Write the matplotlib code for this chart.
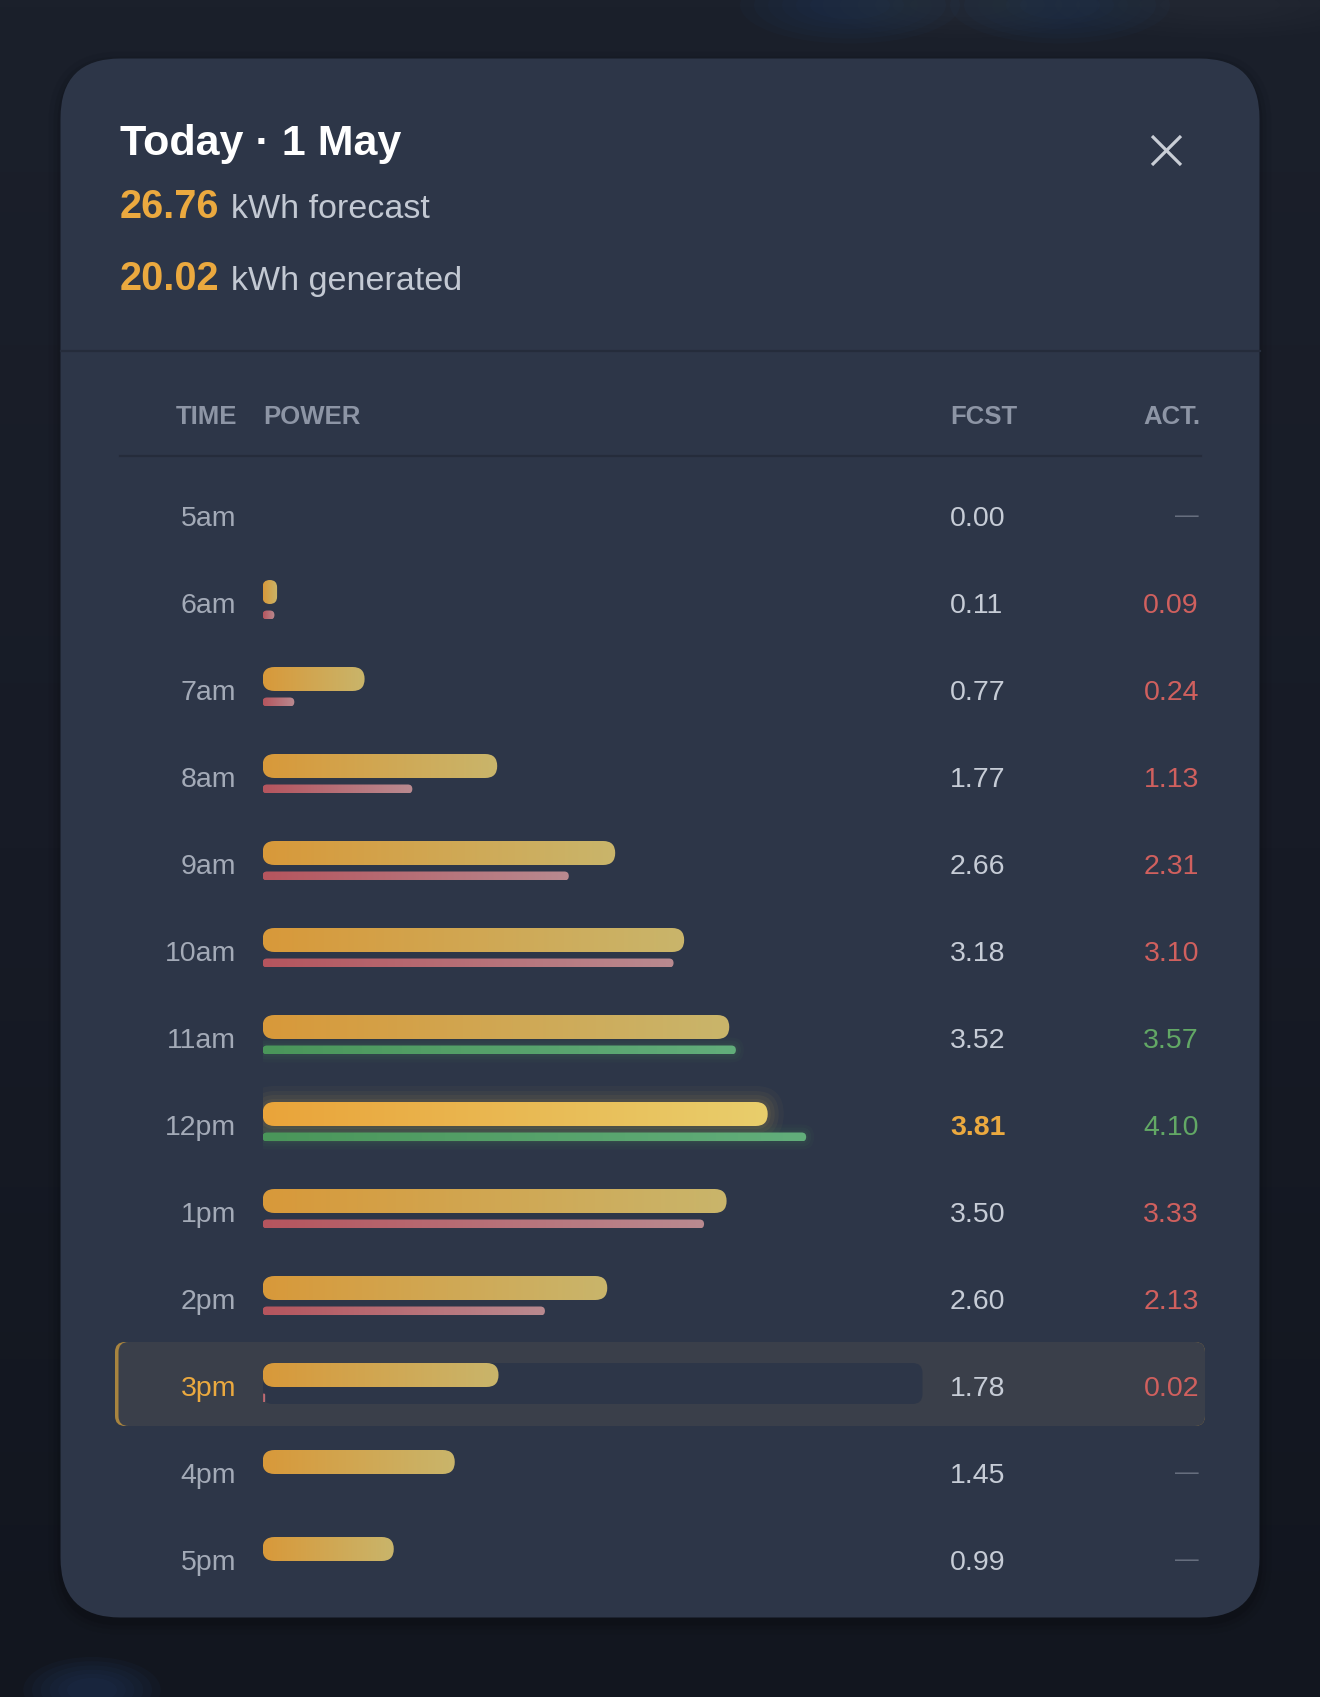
import numpy as np
import matplotlib
matplotlib.use('Agg')
import matplotlib.pyplot as plt
from matplotlib.patches import FancyBboxPatch
from matplotlib.colors import LinearSegmentedColormap
from matplotlib.transforms import blended_transform_factory

plt.rcParams['font.family'] = ['Liberation Sans', 'DejaVu Sans']

# ---------------- data ----------------
hours = ["5am", "6am", "7am", "8am", "9am", "10am", "11am", "12pm",
         "1pm", "2pm", "3pm", "4pm", "5pm"]
forecast = [0.00, 0.11, 0.77, 1.77, 2.66, 3.18, 3.52, 3.81, 3.50, 2.60, 1.78, 1.45, 0.99]
actual = [None, 0.09, 0.24, 1.13, 2.31, 3.10, 3.57, 4.10, 3.33, 2.13, 0.02, None, None]
title = "Today · 1 May"
total_forecast = 26.76
total_generated = 20.02
columns = ["TIME", "POWER", "FCST", "ACT."]
peak_hour = "12pm"
current_hour = "3pm"
scale_max = 5.0

# ---------------- style ----------------
W, H, DPI = 1320, 1697, 100
CARD = '#2d3648'
ORANGE = '#eba93f'
RED = '#d0605e'
GREEN = '#62a865'
TIME_C = '#a3aab7'
VAL_C = '#c6ccd6'
HDR_C = '#8d95a5'
DASH_C = '#666e7e'
LINE_C = '#252c3b'

X0_PX, PXU = 262.5, 132.6      # bar origin (px) and px per kWh
ROW0, ROWH = 515.0, 87.0       # first row centre (px) and row pitch
n = len(hours)

fig = plt.figure(figsize=(W / DPI, H / DPI), dpi=DPI)
bg = fig.add_axes([0, 0, 1, 1])
bg.set_xlim(0, W)
bg.set_ylim(H, 0)
bg.axis('off')

# page background
g = np.linspace(0, 1, 256).reshape(-1, 1)
bg.imshow(g, extent=(0, W, H, 0), aspect='auto', zorder=0,
          cmap=LinearSegmentedColormap.from_list('bgc', ['#1b202b', '#171b26', '#12161f']))
# faint blurred blobs behind the sheet
for cx, cy, rx, ry, col, a in [(850, 5, 40, 14, '#2a4a80', 0.3), (1060, 5, 40, 14, '#2a4a80', 0.3),
                               (960, 5, 50, 12, '#3a3f4a', 0.35), (1220, 5, 60, 12, '#3a3f4a', 0.3),
                               (92, 1690, 25, 12, '#2a4a80', 0.4)]:
    for k in range(6):
        s = 1 + k * 0.35
        bg.add_patch(matplotlib.patches.Ellipse((cx, cy), 2 * rx * s, 2 * ry * s, fc=col,
                                                ec='none', alpha=a / 6, zorder=0.5))

# card with soft shadow
cx0, cy0, cw, ch = 60.5, 58.5, 1199.0, 1559.0
for pad, a in [(12, 0.04), (7, 0.06), (3, 0.08)]:
    bg.add_patch(FancyBboxPatch((cx0 - pad, cy0 - pad + 5), cw + 2 * pad, ch + 2 * pad,
                                boxstyle=f'round,pad=0,rounding_size={60 + pad}',
                                fc='black', ec='none', alpha=a, zorder=0.8))
bg.add_patch(FancyBboxPatch((cx0, cy0), cw, ch, boxstyle='round,pad=0,rounding_size=60',
                            fc=CARD, ec='none', zorder=1))

# header texts
bg.text(120, 155, title, color='white', fontsize=31, fontweight='bold',
        ha='left', va='baseline', zorder=3)
bg.text(120, 218, f"{total_forecast:.2f}", color=ORANGE, fontsize=28.5, fontweight='bold',
        ha='left', va='baseline', zorder=3)
bg.text(231, 218, "kWh forecast", color='#c3c9d3', fontsize=24.5,
        ha='left', va='baseline', zorder=3)
bg.text(120, 290, f"{total_generated:.2f}", color=ORANGE, fontsize=28.5, fontweight='bold',
        ha='left', va='baseline', zorder=3)
bg.text(231, 290, "kWh generated", color='#c3c9d3', fontsize=24.5,
        ha='left', va='baseline', zorder=3)

# close icon
for (xa, ya), (xb, yb) in [((1152, 136), (1181, 165)), ((1152, 165), (1181, 136))]:
    bg.plot([xa, xb], [ya, yb], color='#c9ced6', lw=2.3, solid_capstyle='butt', zorder=3)

# separators
bg.plot([cx0, cx0 + cw], [350.5, 350.5], color=LINE_C, lw=1.6, zorder=2)
bg.plot([120, 1201], [455.5, 455.5], color=LINE_C, lw=1.6, zorder=2)

# column headers
hdr_kw = dict(color=HDR_C, fontsize=18.5, fontweight='bold', va='baseline', zorder=3)
bg.text(237, 424, columns[0], ha='right', **hdr_kw)
bg.text(263, 424, columns[1], ha='left', **hdr_kw)
bg.text(950, 424, columns[2], ha='left', **hdr_kw)
bg.text(1200, 424, columns[3], ha='right', **hdr_kw)

# highlighted (current) row
ci = hours.index(current_hour)
yc_px = ROW0 + ROWH * ci
bg.add_patch(FancyBboxPatch((115, yc_px - 43), 1090, 84, boxstyle='round,pad=0,rounding_size=10',
                            fc='#a8843f', ec='none', zorder=1.5))
bg.add_patch(FancyBboxPatch((118.5, yc_px - 43), 1086.5, 84, boxstyle='round,pad=0,rounding_size=10',
                            fc='#3a3f4a', ec='none', zorder=1.6))

# ---------------- bars axes ----------------
top_px = ROW0 - ROWH / 2
bot_px = ROW0 + ROWH * (n - 1) + ROWH / 2
ax = fig.add_axes([X0_PX / W, 1 - bot_px / H, scale_max * PXU / W, (bot_px - top_px) / H])
ax.set_facecolor('none')
ax.axis('off')
ASPECT = PXU / ROWH


def pill(x0, w, yc, h_px, r_px, **kw):
    h = h_px / ROWH
    r = min(r_px, w * PXU / 2, h_px / 2) / PXU
    p = FancyBboxPatch((x0, yc - h / 2), w, h, boxstyle=f'round,pad=0,rounding_size={r}',
                       mutation_aspect=ASPECT, **kw)
    ax.add_patch(p)
    return p


def grad_bar(w, yc, h_px, r_px, c0, c1, z=3):
    if w <= 0:
        return
    p = pill(0, w, yc, h_px, r_px, fc='none', ec='none', lw=0, zorder=z)
    h = h_px / ROWH
    im = ax.imshow(np.linspace(0, 1, 256)[None, :], extent=(0, w, yc + h / 2, yc - h / 2),
                   cmap=LinearSegmentedColormap.from_list('c', [c0, c1]), aspect='auto',
                   interpolation='bilinear', zorder=z)
    im.set_clip_path(p)


def glow(w, yc, h_px, r_px, col, layers):
    for pad, a in layers:
        padx = pad / PXU
        pill(-padx, w + 2 * padx, yc, h_px + 2 * pad, r_px + pad, fc=col, ec='none', alpha=a, zorder=2)


F_OFF, F_H = -10 / ROWH, 24
A_OFF, A_H = 13 / ROWH, 9
pi = hours.index(peak_hour)

# track for the current row
pill(0, scale_max * 132.0 / PXU, ci - 1.5 / ROWH, 41, 10, fc=CARD, ec='none', zorder=2.5)

for i, (f, a) in enumerate(zip(forecast, actual)):
    if i == pi:
        glow(f, i + F_OFF, F_H, 12, '#d9b656', [(16, 0.035), (11, 0.05), (7, 0.06), (3, 0.07)])
        grad_bar(f, i + F_OFF, F_H, 12, '#eaa43a', '#e8ce6c')
    else:
        grad_bar(f, i + F_OFF, F_H, 12, '#d8993a', '#c9b56b')
    if a is not None:
        if a >= f:
            glow(a, i + A_OFF, A_H, 4.5, '#4a8a5a', [(8, 0.05), (5, 0.07), (2, 0.09)])
            grad_bar(a, i + A_OFF, A_H, 4.5, '#4a965a', '#62ae7b')
        else:
            grad_bar(a, i + A_OFF, A_H, 4.5, '#b5555e', '#b98a90')

ax.set_xlim(0, scale_max)
ax.set_ylim(n - 0.5, -0.5)

# row texts (x in pixels, y in row units)
tr = blended_transform_factory(bg.transData, ax.transData)
BASE = 11 / ROWH
for i, (hname, f, a) in enumerate(zip(hours, forecast, actual)):
    ax.text(236, i + BASE, hname, transform=tr, ha='right', va='baseline', fontsize=20.5,
            color=ORANGE if hname == current_hour else TIME_C, zorder=4)
    ax.text(950, i + BASE, f"{f:.2f}", transform=tr, ha='left', va='baseline', fontsize=20.5,
            color=ORANGE if hname == peak_hour else VAL_C,
            fontweight='bold' if hname == peak_hour else 'normal', zorder=4)
    if a is None:
        ax.text(1199, i + 1 / ROWH, "—", transform=tr, ha='right', va='center', fontsize=17,
                color=DASH_C, zorder=4)
    else:
        ax.text(1199, i + BASE, f"{a:.2f}", transform=tr, ha='right', va='baseline', fontsize=20.5,
                color=GREEN if a >= f else RED, zorder=4)

fig.savefig('out.png', dpi=DPI)
